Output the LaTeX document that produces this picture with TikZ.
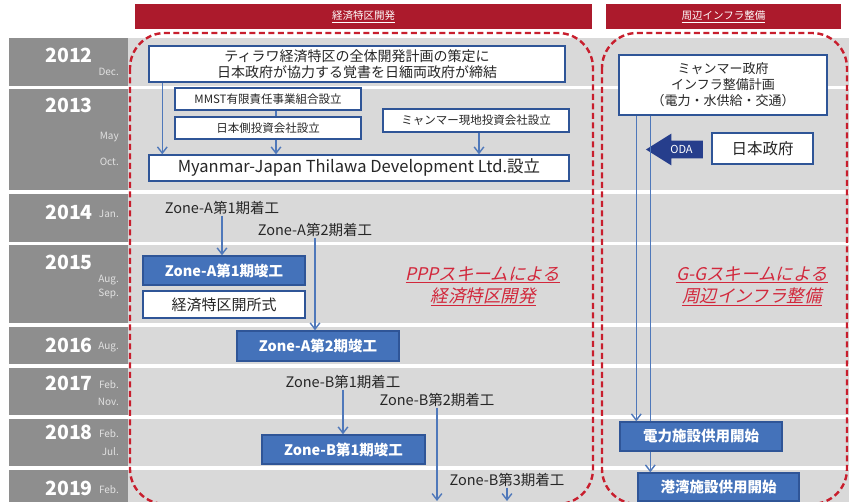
\documentclass[tikz,border=0pt]{standalone}
\usepackage{fontspec}
\setmainfont{Noto Sans CJK JP}
\newfontfamily\slantjp[FakeSlant=0.22]{Noto Sans CJK JP}
\usetikzlibrary{arrows.meta,positioning,shapes.arrows}
\definecolor{bandlight}{RGB}{217,217,217}
\definecolor{bandyear}{RGB}{142,142,142}
\definecolor{monthgray}{RGB}{225,225,225}
\definecolor{zonered}{RGB}{200,30,45}
\definecolor{hdrred}{RGB}{172,26,44}
\definecolor{textred}{RGB}{210,40,60}
\definecolor{boxblue}{RGB}{68,114,186}
\definecolor{boxline}{RGB}{47,85,151}
\definecolor{lineblue}{RGB}{79,120,186}
\definecolor{odanavy}{RGB}{38,62,140}

\begin{document}
\begin{tikzpicture}[x=1pt,y=-1pt,
yearlbl/.style={text=white,font=\bfseries\fontsize{19.5}{21}\selectfont,inner sep=0pt},
monthlbl/.style={text=monthgray,font=\fontsize{10}{11}\selectfont,inner sep=0pt},
zone/.style={draw=zonered,line width=2.4pt,dash pattern=on 6pt off 3.5pt,rounded corners=35pt},
hdr/.style={fill=hdrred,text=white,minimum height=25pt,inner sep=0pt,font=\fontsize{10.5}{12}\selectfont},
box/.style={draw=boxline,line width=1.4pt,fill=white,align=center,inner sep=0pt,text=black!85,font=\fontsize{11.5}{13}\selectfont},
bluebox/.style={box,fill=boxblue,text=white,font=\bfseries\fontsize{14.5}{16}\selectfont},
startlbl/.style={inner sep=1pt,text=black!85,font=\fontsize{14.5}{16}\selectfont},
scheme/.style={align=center,text=textred,font=\slantjp\fontsize{17.5}{22}\selectfont},
oda/.style={single arrow,shape border rotate=180,fill=odanavy,text=white,font=\fontsize{11}{12}\selectfont,
  minimum height=57pt,single arrow head extend=7pt,single arrow tip angle=64,inner xsep=3pt,inner ysep=4.5pt},
arr/.style={-{Straight Barb[length=2.2mm,width=3.4mm]},line width=1.4pt,draw=lineblue},
link/.style={line width=1.4pt,draw=lineblue}]
\useasboundingbox (0,0) rectangle (849,502);

% year rows
\foreach \yr/\ytop/\ybot/\ylab in {2012/38/86/55,2013/89/190/105,2014/194/242/212,2015/245/323/262,
  2016/327/364/345,2017/368/415/383,2018/419/466/432,2019/470/520/488}{
  \fill[bandlight] (128,\ytop) rectangle (849,\ybot);
  \fill[bandyear] (9,\ytop) rectangle (128,\ybot);
  \node[yearlbl,anchor=east] (y\yr) at (93,\ylab) {\yr};
}
\foreach \mo/\my [count=\i] in {Dec./72,May/137,Oct./162,Jan./214,Aug./280,Sep./294,
  Aug./347,Feb./385,Nov./402,Feb./434,Jul./452,Feb./490}
  \node[monthlbl,anchor=east] (mon\i) at (119,\my) {\mo};

% zones and headers
\draw[zone] (130,33) rectangle (593,504);
\draw[zone] (602,33) rectangle (847,504);
\node[hdr,minimum width=457pt] (hdrsez) at (363.5,17) {\underline{経済特区開発}};
\node[hdr,minimum width=235pt] (hdrinfra) at (723.5,17) {\underline{周辺インフラ整備}};

% SEZ development
\node[box,minimum width=416pt,minimum height=36pt,font=\fontsize{14}{16.5}\selectfont] (mou) at (357,64)
  {ティラワ経済特区の全体開発計画の策定に\\日本政府が協力する覚書を日緬両政府が締結};
\node[box,minimum width=186pt,minimum height=22pt] (mmst) at (268,99) {MMST有限責任事業組合設立};
\node[box,minimum width=186pt,minimum height=22pt] (jside) at (268,128) {日本側投資会社設立};
\node[box,minimum width=186pt,minimum height=23pt] (mlocal) at (476,120.5) {ミャンマー現地投資会社設立};
\node[box,minimum width=420pt,minimum height=26pt,font=\fontsize{16.5}{18}\selectfont] (mjtd) at (359,168)
  {Myanmar-Japan Thilawa Development Ltd.設立};
\draw[arr] ([xshift=14pt]mou.south west) -- ([xshift=14pt]mjtd.north west);
\draw[link] ([xshift=8pt]mmst.south) -- ([xshift=8pt]jside.north);
\draw[arr] ([xshift=8pt]jside.south) -- ([xshift=8pt]jside.south |- mjtd.north);
\draw[arr] ([xshift=3pt]mlocal.south) -- ([xshift=3pt]mlocal.south |- mjtd.north);

\node[startlbl] (za1s) at (222,208) {Zone-A第1期着工};
\node[startlbl] (za2s) at (315,230) {Zone-A第2期着工};
\node[bluebox,minimum width=162pt,minimum height=29pt] (za1e) at (224,270.5) {Zone-A第1期竣工};
\node[box,minimum width=162pt,minimum height=27pt,font=\fontsize{15}{16}\selectfont] (open) at (224,304.5) {経済特区開所式};
\node[bluebox,minimum width=162pt,minimum height=30pt] (za2e) at (318,346) {Zone-A第2期竣工};
\draw[arr] (za1s.south) -- (za1s.south |- za1e.north);
\draw[arr] (za2s.south) -- (za2s.south |- za2e.north);

\node[startlbl] (zb1s) at (343,382) {Zone-B第1期着工};
\node[bluebox,minimum width=163pt,minimum height=29pt] (zb1e) at (343.5,449.5) {Zone-B第1期竣工};
\node[startlbl] (zb2s) at (437,400) {Zone-B第2期着工};
\node[startlbl] (zb3s) at (507,480) {Zone-B第3期着工};
\coordinate (zb2end) at (437,501);
\coordinate (zb3end) at (507,501);
\draw[arr] (zb1s.south) -- (zb1s.south |- zb1e.north);
\draw[arr] (zb2s.south) -- (zb2end);
\draw[arr] (zb3s.south) -- (zb3end);

\node[scheme] (ppp) at (483,286) {\underline{PPPスキームによる}\\\underline{経済特区開発}};

% surrounding infrastructure
\node[box,minimum width=208pt,minimum height=60pt,font=\fontsize{13}{16}\selectfont] (infra) at (723,85)
  {ミャンマー政府\\インフラ整備計画\\（電力・水供給・交通）};
\node[box,minimum width=101pt,minimum height=31pt,font=\fontsize{15.5}{17}\selectfont] (jgov) at (762.5,148.5) {日本政府};
\node[oda] (odaarrow) at (681.5,149.5) {ODA};
\node[bluebox,minimum width=162pt,minimum height=29pt] (power) at (701,436.5) {電力施設供用開始};
\node[bluebox,minimum width=161pt,minimum height=28pt] (port) at (718.5,487) {港湾施設供用開始};
\draw[arr] ([xshift=18pt]infra.south west) -- ([xshift=17pt]power.north west);
\draw[link] ([xshift=32pt]infra.south west) -- ([xshift=31pt]power.north west);
\draw[arr] ([xshift=13pt]port.north west |- power.south) -- ([xshift=13pt]port.north west);

\node[scheme] (gg) at (752,286) {\underline{G-Gスキームによる}\\\underline{周辺インフラ整備}};
\end{tikzpicture}
\end{document}
